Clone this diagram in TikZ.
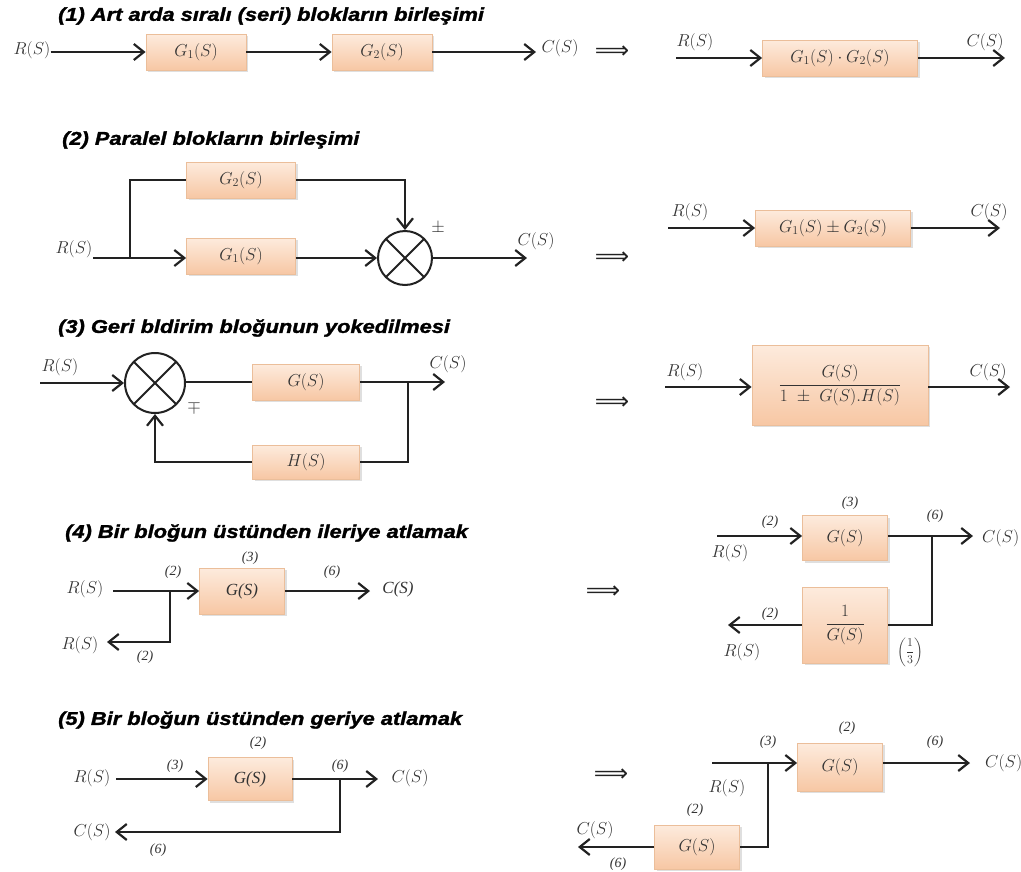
\documentclass[tikz,border=0pt]{standalone}
\usepackage{fontspec}
\usepackage{amsmath}
\usetikzlibrary{arrows.meta,shadows}
\newfontfamily\titlefont{Liberation Sans}[BoldItalicFeatures={FakeBold=1.6, FakeStretch=1.18}]
\newfontfamily\tfont{Liberation Serif}
\newfontfamily\symfont{DejaVu Sans}
\definecolor{pchtop}{HTML}{FDEBDD}
\definecolor{pchbot}{HTML}{F7C7A4}
\definecolor{pchdraw}{HTML}{EBBE9A}
\definecolor{ink}{HTML}{222222}
\definecolor{lblc}{HTML}{333333}
\begin{document}
\begin{tikzpicture}[x=1pt,y=-1pt,
  ttl/.style={anchor=west, font=\titlefont\bfseries\itshape\fontsize{18.5}{22}\selectfont, inner sep=0},
  lbl/.style={font=\fontsize{17}{20}\selectfont, text=lblc, inner sep=0},
  tl/.style={font=\tfont\itshape\fontsize{17}{20}\selectfont, text=lblc, inner sep=0},
  nl/.style={font=\tfont\itshape\fontsize{14}{16}\selectfont, text=lblc, inner sep=0},
  blk/.style={draw=pchdraw, line width=0.8pt, top color=pchtop, bottom color=pchbot,
     drop shadow={opacity=0.25, shadow xshift=2pt, shadow yshift=-2pt},
     font=\fontsize{17}{20}\selectfont, text=lblc, inner sep=0},
  wire/.style={draw=ink, line width=2.2pt},
  arr/.style={wire, -{Straight Barb[length=10pt,width=16pt]}},
  sumc/.style={circle, draw=ink, line width=2pt, inner sep=0,
     path picture={\draw[ink, line width=2pt]
        (path picture bounding box.north west) -- (path picture bounding box.south east)
        (path picture bounding box.north east) -- (path picture bounding box.south west);}},
  imp/.style={font=\symfont\fontsize{24}{26}\selectfont, text=ink, inner sep=0}
]
\fill[white] (0,0) rectangle (1021,871);
\useasboundingbox (0,0) rectangle (1021,871);

% ---------- (1) ----------
\node[ttl] (t1) at (58,16) {(1) Art arda sıralı (seri) blokların birleşimi};
\node[lbl] (r1) at (32,50) {$R(S)$};
\node[blk, minimum width=100pt, minimum height=36pt] (g1a) at (196,52) {$G_1(S)$};
\node[blk, minimum width=100pt, minimum height=36pt] (g1b) at (382,52) {$G_2(S)$};
\node[lbl] (c1) at (560,48) {$C(S)$};
\coordinate (c1e) at (536,52);
\draw[arr] (r1.east |- g1a) -- (g1a);
\draw[arr] (g1a) -- (g1b);
\draw[arr] (g1b) -- (c1e);
\node[imp] (i1) at (612,52) {⟹};
\node[blk, minimum width=155pt, minimum height=36pt] (s1) at (840,58) {$G_1(S)\cdot G_2(S)$};
\coordinate (s1in) at (676,58);
\coordinate (s1out) at (1005,58);
\draw[arr] (s1in) -- (s1);
\draw[arr] (s1) -- (s1out);
\node[lbl] (r1r) at (695,42) {$R(S)$};
\node[lbl] (c1r) at (985,42) {$C(S)$};

% ---------- (2) ----------
\node[ttl] (t2) at (62,140) {(2) Paralel blokların birleşimi};
\node[blk, minimum width=109pt, minimum height=36pt] (g2b) at (241,180) {$G_2(S)$};
\node[blk, minimum width=109pt, minimum height=36pt] (g2a) at (241,256) {$G_1(S)$};
\node[sumc, minimum size=54pt] (sum2) at (405,258) {};
\node[lbl] (r2) at (74,249) {$R(S)$};
\coordinate (in2) at (93,258);
\coordinate (b2) at (130,258);
\draw[arr] (in2) -- (in2 -| g2a.west);
\draw[wire] (b2) |- (g2b.west);
\draw[arr] (g2b.east) -| (sum2.north);
\draw[arr] (g2a.east |- sum2) -- (sum2.west);
\node[lbl] (pm2) at (438,228) {$\pm$};
\coordinate (out2) at (527,258);
\draw[arr] (sum2) -- (out2);
\node[lbl] (c2) at (536,241) {$C(S)$};
\node[imp] (i2) at (612,258) {⟹};
\node[blk, minimum width=155pt, minimum height=36pt] (s2) at (833,228) {$G_1(S)\pm G_2(S)$};
\coordinate (s2in) at (668,228);
\coordinate (s2out) at (1000,228);
\draw[arr] (s2in) -- (s2);
\draw[arr] (s2) -- (s2out);
\node[lbl] (r2r) at (690,212) {$R(S)$};
\node[lbl] (c2r) at (989,212) {$C(S)$};

% ---------- (3) ----------
\node[ttl] (t3) at (58,328) {(3) Geri bldirim bloğunun yokedilmesi};
\node[sumc, minimum size=60pt] (sum3) at (155,383) {};
\node[lbl] (r3) at (60,367) {$R(S)$};
\coordinate (in3) at (40,383);
\draw[arr] (in3) -- (sum3);
\node[blk, minimum width=107pt, minimum height=36pt] (g3) at (306,382) {$G(S)$};
\draw[wire] (sum3.east |- g3) -- (g3);
\coordinate (out3) at (445,382);
\draw[arr] (g3) -- (out3);
\node[lbl] (c3) at (448,364) {$C(S)$};
\coordinate (b3) at (408,382);
\node[blk, minimum width=107pt, minimum height=34pt] (h3) at (306,462) {$H(S)$};
\draw[wire] (b3) |- (h3.east);
\draw[arr] (h3.west) -| (sum3.south);
\node[lbl] (mp3) at (194,407) {$\mp$};
\node[imp] (i3) at (612,403) {⟹};
\node[blk, minimum width=176pt, minimum height=80pt] (s3) at (840,385) {$\dfrac{G(S)}{1\ \pm\ G(S).H(S)}$};
\coordinate (s3in) at (665,387);
\coordinate (s3out) at (1010,387);
\draw[arr] (s3in) -- (s3in -| s3.west);
\draw[arr] (s3.east |- s3out) -- (s3out);
\node[lbl] (r3r) at (685,372) {$R(S)$};
\node[lbl] (c3r) at (988,372) {$C(S)$};

% ---------- (4) ----------
\node[ttl] (t4) at (65,533) {(4) Bir bloğun üstünden ileriye atlamak};
\node[lbl] (r4a) at (85,589) {$R(S)$};
\node[blk, minimum width=85pt, minimum height=46pt] (g4) at (242,591) {\tfont\itshape G(S)};
\coordinate (in4) at (113,591);
\coordinate (b4) at (170,591);
\coordinate (e4) at (107,642);
\coordinate (out4) at (370,591);
\draw[arr] (in4) -- (g4);
\draw[arr] (g4) -- (out4);
\draw[arr] (b4) |- (e4);
\node[tl] (c4) at (398,589) {C(S)};
\node[lbl] (r4b) at (80,645) {$R(S)$};
\node[nl] (n4a) at (250,558) {(3)};
\node[nl] (n4b) at (173,572) {(2)};
\node[nl] (n4c) at (332,572) {(6)};
\node[nl] (n4d) at (145,657) {(2)};
\node[imp] (i4) at (603,592) {⟹};
\node[blk, minimum width=85pt, minimum height=45pt] (g4r) at (845,538) {$G(S)$};
\node[blk, minimum width=85pt, minimum height=76pt] (h4r) at (845,625) {$\dfrac{1}{G(S)}$};
\coordinate (in4r) at (717,536);
\coordinate (out4r) at (973,536);
\coordinate (b4r) at (932,536);
\coordinate (e4r) at (728,625);
\draw[arr] (in4r) -- (in4r -| g4r.west);
\draw[arr] (g4r.east |- out4r) -- (out4r);
\draw[wire] (b4r) |- (h4r.east);
\draw[arr] (h4r) -- (e4r);
\node[lbl, anchor=west] (c4r) at (982,538) {$C(S)$};
\node[lbl] (r4r) at (730,553) {$R(S)$};
\node[nl] (n4e) at (770,522) {(2)};
\node[nl] (n4f) at (850,503) {(3)};
\node[nl] (n4g) at (935,516) {(6)};
\node[nl] (n4h) at (770,614) {(2)};
\node[lbl] (r4r2) at (742,652) {$R(S)$};
\node[lbl, font=\fontsize{13}{15}\selectfont] (f4) at (910,652) {$\left(\dfrac{1}{3}\right)$};

% ---------- (5) ----------
\node[ttl] (t5) at (58,720) {(5) Bir bloğun üstünden geriye atlamak};
\node[lbl] (r5) at (92,778) {$R(S)$};
\node[blk, minimum width=84pt, minimum height=43pt] (g5) at (250,779) {\tfont\itshape G(S)};
\coordinate (in5) at (116,779);
\coordinate (out5) at (378,779);
\coordinate (b5) at (340,779);
\coordinate (e5) at (115,832);
\draw[arr] (in5) -- (g5);
\draw[arr] (g5) -- (out5);
\draw[arr] (b5) |- (e5);
\node[lbl] (c5) at (410,778) {$C(S)$};
\node[lbl] (c5b) at (92,832) {$C(S)$};
\node[nl] (n5a) at (258,743) {(2)};
\node[nl] (n5b) at (175,766) {(3)};
\node[nl] (n5c) at (340,766) {(6)};
\node[nl] (n5d) at (158,850) {(6)};
\node[imp] (i5) at (611,775) {⟹};
\node[blk, minimum width=85pt, minimum height=48pt] (g5r) at (840,767) {$G(S)$};
\node[blk, minimum width=85pt, minimum height=44pt] (h5r) at (697,847) {$G(S)$};
\coordinate (in5r) at (712,763);
\coordinate (out5r) at (970,763);
\coordinate (b5r) at (768,763);
\coordinate (e5r) at (578,847);
\draw[arr] (in5r) -- (in5r -| g5r.west);
\draw[arr] (g5r.east |- out5r) -- (out5r);
\draw[wire] (b5r) |- (h5r.east);
\draw[arr] (h5r) -- (e5r);
\node[lbl, anchor=west] (c5r) at (985,763) {$C(S)$};
\node[lbl] (r5r) at (727,788) {$R(S)$};
\node[nl] (n5e) at (768,742) {(3)};
\node[nl] (n5f) at (847,728) {(2)};
\node[nl] (n5g) at (935,742) {(6)};
\node[lbl] (c5r2) at (595,830) {$C(S)$};
\node[nl] (n5h) at (618,864) {(6)};
\node[nl] (n5i) at (695,810) {(2)};
\end{tikzpicture}
\end{document}
